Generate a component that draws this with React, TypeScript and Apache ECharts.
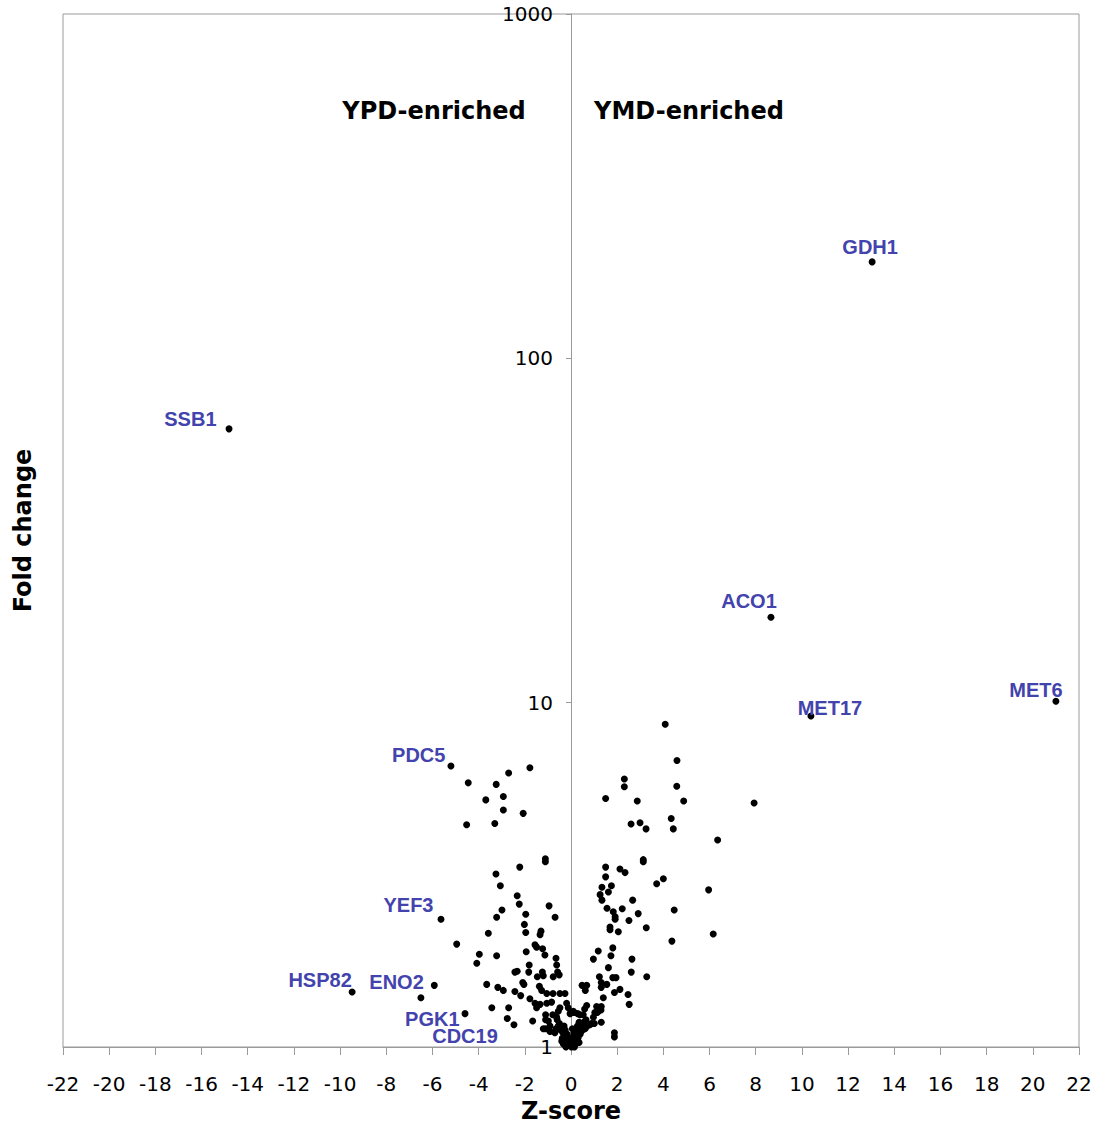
import React, { useEffect, useRef } from "react";
import * as echarts from "echarts";

// Named genes (Z-score, fold change)
const geneNames = ["GDH1", "SSB1", "ACO1", "MET6", "MET17", "PDC5", "YEF3", "HSP82", "ENO2", "PGK1", "CDC19"];
const geneZ = [13.04, -14.81, 8.66, 21.0, 10.39, -5.2, -5.63, -9.48, -5.92, -4.59, -2.76];
const geneFold = [190.6, 62.4, 17.7, 10.1, 9.15, 6.55, 2.35, 1.445, 1.51, 1.25, 1.21];

// YPD-enriched side (negative Z)
const ypdPoints: [number, number][] = [
  [-1.78, 6.47], [-2.70, 6.25], [-4.45, 5.85], [-3.24, 5.79], [-3.69, 5.22], [-2.93, 5.34], [-2.93, 4.88], [-2.07, 4.77], [-4.52, 4.42], [-3.30, 4.46],
  [-1.11, 3.52], [-1.11, 3.45], [-2.22, 3.33], [-3.25, 3.18], [-3.06, 2.94], [-2.33, 2.75], [-2.24, 2.60], [-0.95, 2.57], [-0.69, 2.38], [-2.99, 2.50],
  [-3.22, 2.38], [-1.96, 2.43], [-2.02, 2.27], [-1.96, 2.15], [-1.30, 2.17], [-1.34, 2.12], [-3.58, 2.14], [-4.95, 1.99], [-1.56, 1.98], [-1.49, 1.95],
  [-1.23, 1.93], [-3.97, 1.86], [-3.22, 1.84], [-1.94, 1.89], [-1.13, 1.85], [-4.08, 1.75], [-0.65, 1.81], [-0.62, 1.73], [-1.81, 1.73], [-2.43, 1.65],
  [-2.33, 1.66], [-1.83, 1.65], [-1.24, 1.65], [-1.20, 1.61], [-2.09, 1.54], [-2.04, 1.52], [-1.46, 1.60], [-0.77, 1.60], [-0.51, 1.62], [-0.58, 1.65],
  [-3.65, 1.52], [-3.17, 1.49], [-2.93, 1.46], [-6.50, 1.39], [-2.43, 1.45], [-2.18, 1.41], [-1.37, 1.50], [-1.27, 1.46], [-1.05, 1.43], [-0.78, 1.43],
  [-0.48, 1.43], [-0.26, 1.43], [-1.78, 1.38], [-1.56, 1.34], [-1.49, 1.30], [-1.34, 1.33], [-1.05, 1.34], [-0.84, 1.35], [-3.43, 1.30], [-2.70, 1.30],
  [-2.47, 1.16], [-1.66, 1.19], [-1.10, 1.24], [-1.10, 1.20], [-1.10, 1.13], [-0.79, 1.24], [-0.62, 1.22], [-0.19, 1.34], [-0.12, 1.30], [-0.48, 1.30],
  [-0.55, 1.27], [-0.04, 1.25], [-0.98, 1.19], [-0.91, 1.15], [-0.91, 1.11], [-1.20, 1.13],
  [-0.60, 1.20], [-0.50, 1.17], [-0.42, 1.14], [-0.35, 1.10], [-0.28, 1.08], [-0.20, 1.05], [-0.15, 1.03], [-0.10, 1.01], [-0.45, 1.12], [-0.30, 1.15],
  [-0.25, 1.12], [-0.38, 1.06], [-0.18, 1.09], [-0.12, 1.06], [-0.08, 1.04], [-0.05, 1.02], [-0.55, 1.15], [-0.65, 1.13], [-0.70, 1.10], [-0.33, 1.02],
  [-0.22, 1.00], [-0.40, 1.04],
];

// YMD-enriched side (positive Z)
const ymdPoints: [number, number][] = [
  [4.08, 8.66], [4.59, 6.79], [2.31, 6.00], [2.31, 5.70], [4.58, 5.72], [1.50, 5.27], [2.87, 5.18], [4.88, 5.18], [4.34, 4.61], [2.60, 4.44],
  [2.99, 4.48], [3.25, 4.30], [4.43, 4.30], [7.93, 5.11], [6.35, 3.99], [3.13, 3.45], [3.13, 3.50], [1.50, 3.33], [2.12, 3.29], [2.34, 3.21],
  [1.50, 3.12], [4.00, 3.08], [3.71, 2.98], [1.34, 2.91], [1.75, 2.94], [5.96, 2.86], [1.62, 2.82], [1.26, 2.77], [1.34, 2.67], [2.67, 2.67],
  [1.56, 2.53], [1.83, 2.47], [2.22, 2.52], [4.47, 2.50], [1.91, 2.39], [1.91, 2.35], [2.91, 2.44], [2.51, 2.33], [3.26, 2.22], [1.69, 2.23],
  [1.69, 2.19], [2.05, 2.16], [6.16, 2.13], [4.37, 2.03], [1.81, 1.94], [1.18, 1.90], [0.97, 1.80], [1.73, 1.84], [2.64, 1.80], [1.62, 1.70],
  [2.61, 1.65], [3.28, 1.60], [1.23, 1.60], [1.81, 1.59], [1.95, 1.59], [1.31, 1.54], [1.31, 1.49], [1.55, 1.52], [0.48, 1.51], [0.68, 1.51],
  [0.62, 1.46], [2.12, 1.47], [1.88, 1.44], [2.47, 1.42], [1.40, 1.39], [2.52, 1.33], [1.11, 1.31], [1.31, 1.31], [0.68, 1.32], [0.59, 1.29],
  [0.13, 1.26], [0.39, 1.24], [0.53, 1.24], [1.03, 1.26], [1.14, 1.26], [0.97, 1.22], [1.31, 1.18], [0.88, 1.17], [1.88, 1.10], [1.88, 1.07],
  [0.29, 1.25], [1.30, 1.28], [1.18, 1.27], [1.01, 1.17], [0.82, 1.16], [0.61, 1.13], [0.43, 1.11], [0.32, 1.08], [0.17, 1.05], [0.10, 1.27],
  [0.05, 1.01], [0.10, 1.03], [0.15, 1.00], [0.20, 1.02], [0.25, 1.04], [0.30, 1.06], [0.35, 1.03], [0.08, 1.07], [0.12, 1.10], [0.18, 1.12],
  [0.22, 1.08], [0.40, 1.09], [0.45, 1.14], [0.50, 1.12], [0.55, 1.18], [0.28, 1.15], [0.03, 1.04], [0.06, 1.13], [0.65, 1.20], [0.70, 1.15],
  [0.35, 1.18], [0.02, 1.00],
];

const regionTitles = ["YPD-enriched", "YMD-enriched"];
const xTitle = "Z-score";
const yTitle = "Fold change";

// label placement (style only)
const labelPlacement: Record<string, { position: string; offset: number[] }> = {
  GDH1: { position: "top", offset: [-2, 4] },
  SSB1: { position: "left", offset: [-4, -10] },
  ACO1: { position: "top", offset: [-22, 2] },
  MET6: { position: "top", offset: [-20, 7] },
  MET17: { position: "top", offset: [19, 11] },
  PDC5: { position: "left", offset: [3, -11] },
  YEF3: { position: "left", offset: [1, -14] },
  HSP82: { position: "top", offset: [-32, 7] },
  ENO2: { position: "left", offset: [-2, -3] },
  PGK1: { position: "left", offset: [3, 5] },
  CDC19: { position: "left", offset: [-1, 18] },
};

const AXIS_GRAY = "#9a9a9a";
const GRID_LEFT = 63;
const GRID_RIGHT = 20;
const CHART_W = 1099;

export default function App() {
  const ref = useRef<HTMLDivElement>(null);
  useEffect(() => {
    document.body.style.margin = "0";
    if (!ref.current) return;
    const chart = echarts.init(ref.current, null, { renderer: "svg" });
    const geneData = geneNames.map((n, i) => ({
      name: n,
      value: [geneZ[i], geneFold[i]],
      label: {
        show: true,
        position: labelPlacement[n].position,
        offset: labelPlacement[n].offset,
      },
    }));
    const dotStyle = { color: "#000", opacity: 1 };
    // place the y axis at Z = 0 (the middle of the symmetric x range)
    const plotW = CHART_W - GRID_LEFT - GRID_RIGHT;
    const yAxisOffset = -plotW / 2;
    chart.setOption({
      animation: false,
      backgroundColor: "#ffffff",
      grid: {
        left: GRID_LEFT,
        right: GRID_RIGHT,
        top: 14,
        bottom: 78,
        show: true,
        borderColor: AXIS_GRAY,
        borderWidth: 1,
        containLabel: false,
        outerBoundsMode: "none",
      },
      xAxis: {
        type: "value",
        min: -22,
        max: 22,
        interval: 2,
        axisLine: { show: true, onZero: false, lineStyle: { color: AXIS_GRAY } },
        axisTick: { show: true, length: 8, lineStyle: { color: AXIS_GRAY } },
        axisLabel: {
          color: "#000",
          fontFamily: "DejaVu Sans",
          fontSize: 20,
          margin: 27,
          formatter: (v: number) => String(v),
        },
        splitLine: { show: false },
        name: xTitle,
        nameLocation: "middle",
        nameGap: 50,
        nameTextStyle: { fontFamily: "DejaVu Sans", fontWeight: "bold", fontSize: 24, color: "#000" },
      },
      yAxis: {
        type: "log",
        logBase: 10,
        min: 1,
        max: 1000,
        position: "left",
        offset: yAxisOffset,
        axisLine: { show: true, onZero: false, lineStyle: { color: AXIS_GRAY } },
        axisTick: { show: true, length: 5, lineStyle: { color: AXIS_GRAY } },
        axisLabel: {
          color: "#000",
          fontFamily: "DejaVu Sans",
          fontSize: 20,
          margin: 18,
          formatter: (v: number) => String(Math.round(v)),
        },
        splitLine: { show: false },
        name: yTitle,
        nameLocation: "middle",
        nameGap: 536,
        nameRotate: 90,
        nameTextStyle: { fontFamily: "DejaVu Sans", fontWeight: "bold", fontSize: 24, color: "#000" },
      },
      graphic: [
        {
          type: "text",
          x: 434,
          y: 111,
          style: {
            text: regionTitles[0],
            align: "center",
            verticalAlign: "middle",
            fontFamily: "DejaVu Sans",
            fontWeight: "bold",
            fontSize: 24,
            fill: "#000",
          },
        },
        {
          type: "text",
          x: 689,
          y: 111,
          style: {
            text: regionTitles[1],
            align: "center",
            verticalAlign: "middle",
            fontFamily: "DejaVu Sans",
            fontWeight: "bold",
            fontSize: 24,
            fill: "#000",
          },
        },
      ],
      series: [
        {
          type: "scatter",
          data: ypdPoints,
          symbolSize: 7,
          itemStyle: dotStyle,
        },
        {
          type: "scatter",
          data: ymdPoints,
          symbolSize: 7,
          itemStyle: dotStyle,
        },
        {
          type: "scatter",
          data: geneData,
          symbolSize: 7,
          itemStyle: dotStyle,
          label: {
            show: true,
            formatter: "{b}",
            color: "#4343ad",
            fontFamily: "Liberation Sans",
            fontWeight: "bold",
            fontSize: 20,
          },
        },
      ],
    });
    return () => chart.dispose();
  }, []);
  return <div ref={ref} style={{ width: 1099, height: 1125 }} />;
}
